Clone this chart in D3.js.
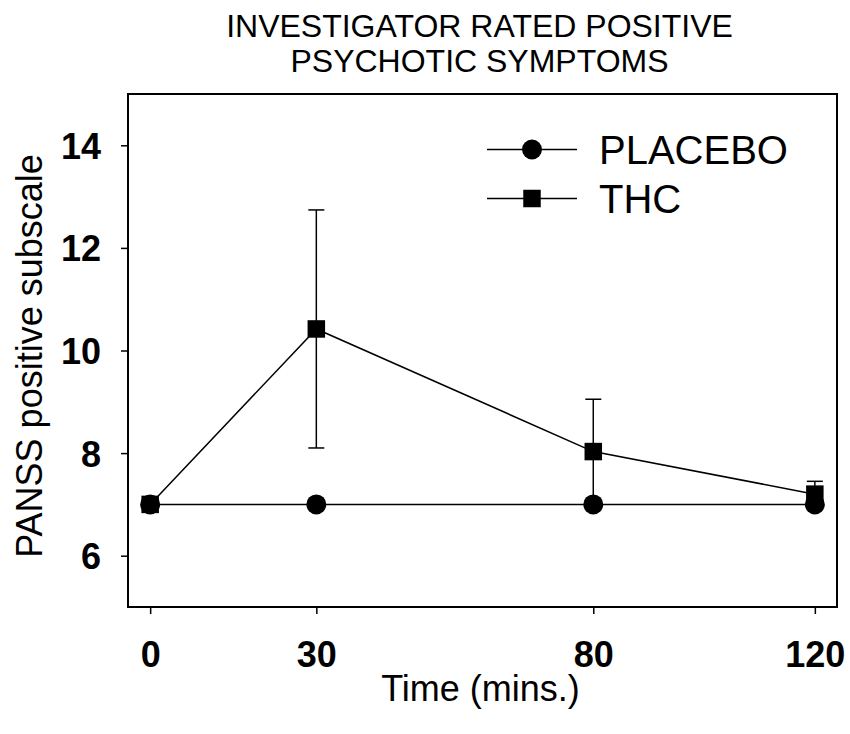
<!DOCTYPE html>
<html>
<head>
<meta charset="utf-8">
<script src="https://cdn.jsdelivr.net/npm/d3@7"></script>
<style>
  html, body { margin: 0; padding: 0; background: #fff; }
  svg { display: block; }
  text { font-family: "Liberation Sans", Arial, sans-serif; fill: #000; }
</style>
</head>
<body>
<svg id="chart" width="850" height="734"></svg>
<script>
// ---- data ----
const times = [0, 30, 80, 120];
const placeboMean = [7.0, 7.0, 7.0, 7.0];
const placeboErr = [0, 0, 0, 0];
const thcMean = [7.0, 10.42, 8.03, 7.2];
const thcErr = [0, 2.32, 1.02, 0.25];
const xTicks = [0, 30, 80, 120];
const yTicks = [6, 8, 10, 12, 14];
const titleLines = ["INVESTIGATOR RATED POSITIVE", "PSYCHOTIC SYMPTOMS"];
const seriesNames = ["PLACEBO", "THC"];

// ---- layout ----
const svg = d3.select("#chart");
const L = 128, R = 837, T = 94, B = 607;

const x = d3.scaleLinear().domain([-4, 124]).range([L, R]);
const y = d3.scaleLinear().domain([5, 15]).range([B, T]);

// title
svg.append("g").selectAll("text").data(titleLines).join("text")
  .attr("x", (L + R) / 2 - 3)
  .attr("y", (d, i) => 36.5 + i * 35)
  .attr("text-anchor", "middle")
  .attr("font-size", 32)
  .text(d => d);

// frame
svg.append("rect")
  .attr("x", L).attr("y", T).attr("width", R - L).attr("height", B - T)
  .attr("fill", "none").attr("stroke", "#000").attr("stroke-width", 2);

// axes
const yAxis = svg.append("g").attr("transform", `translate(${L},0)`)
  .call(d3.axisLeft(y).tickValues(yTicks).tickSize(7).tickPadding(20).tickFormat(d3.format("d")));
const xAxis = svg.append("g").attr("transform", `translate(0,${B})`)
  .call(d3.axisBottom(x).tickValues(xTicks).tickSize(7).tickPadding(22).tickFormat(d3.format("d")));
[xAxis, yAxis].forEach(g => {
  g.select(".domain").remove();
  g.selectAll(".tick line").attr("stroke", "#000").attr("stroke-width", 1.5);
  g.selectAll(".tick text")
    .attr("font-size", 36).attr("font-weight", "bold")
    .attr("font-family", "'Liberation Sans', Arial, sans-serif")
    .attr("fill", "#000");
});
xAxis.selectAll(".tick text").attr("dy", null).attr("y", 60);
yAxis.selectAll(".tick text").attr("dy", "0.36em");

// axis titles
svg.append("text")
  .attr("x", (L + R) / 2 - 2).attr("y", 701)
  .attr("text-anchor", "middle").attr("font-size", 36)
  .text("Time (mins.)");
svg.append("text")
  .attr("transform", "translate(42,356) rotate(-90)")
  .attr("text-anchor", "middle").attr("font-size", 36)
  .text("PANSS positive subscale");

// data
const placebo = times.map((t, i) => ({ t, m: placeboMean[i], e: placeboErr[i] }));
const thc = times.map((t, i) => ({ t, m: thcMean[i], e: thcErr[i] }));
const line = d3.line().x(d => x(d.t)).y(d => y(d.m));

const plot = svg.append("g");
function errorBars(data) {
  const g = plot.append("g").attr("stroke", "#000").attr("stroke-width", 1.5);
  data.filter(d => d.e > 0).forEach(d => {
    g.append("line").attr("x1", x(d.t)).attr("x2", x(d.t))
      .attr("y1", y(d.m - d.e)).attr("y2", y(d.m + d.e));
    [d.m - d.e, d.m + d.e].forEach(v => {
      g.append("line").attr("x1", x(d.t) - 8).attr("x2", x(d.t) + 8)
        .attr("y1", y(v)).attr("y2", y(v));
    });
  });
}
errorBars(thc);
errorBars(placebo);

plot.append("path").datum(thc).attr("d", line)
  .attr("fill", "none").attr("stroke", "#000").attr("stroke-width", 1.5);
plot.append("path").datum(placebo).attr("d", line)
  .attr("fill", "none").attr("stroke", "#000").attr("stroke-width", 1.5);

const SQ = 17.5, RAD = 10;
plot.append("g").selectAll("rect").data(thc).join("rect")
  .attr("x", d => x(d.t) - SQ / 2).attr("y", d => y(d.m) - SQ / 2)
  .attr("width", SQ).attr("height", SQ).attr("fill", "#000");
plot.append("g").selectAll("circle").data(placebo).join("circle")
  .attr("cx", d => x(d.t)).attr("cy", d => y(d.m)).attr("r", RAD).attr("fill", "#000");

// legend
const legendY = [149.5, 198.5];
const lg = svg.append("g");
seriesNames.forEach((name, i) => {
  const cy = legendY[i];
  lg.append("line").attr("x1", 487).attr("x2", 577).attr("y1", cy).attr("y2", cy)
    .attr("stroke", "#000").attr("stroke-width", 1.5);
  if (i === 0) {
    lg.append("circle").attr("cx", 532).attr("cy", cy).attr("r", RAD).attr("fill", "#000");
  } else {
    lg.append("rect").attr("x", 532 - SQ / 2).attr("y", cy - SQ / 2)
      .attr("width", SQ).attr("height", SQ).attr("fill", "#000");
  }
  lg.append("text").attr("x", 599).attr("y", cy + 14.5)
    .attr("font-size", 40).text(name);
});
</script>
</body>
</html>
